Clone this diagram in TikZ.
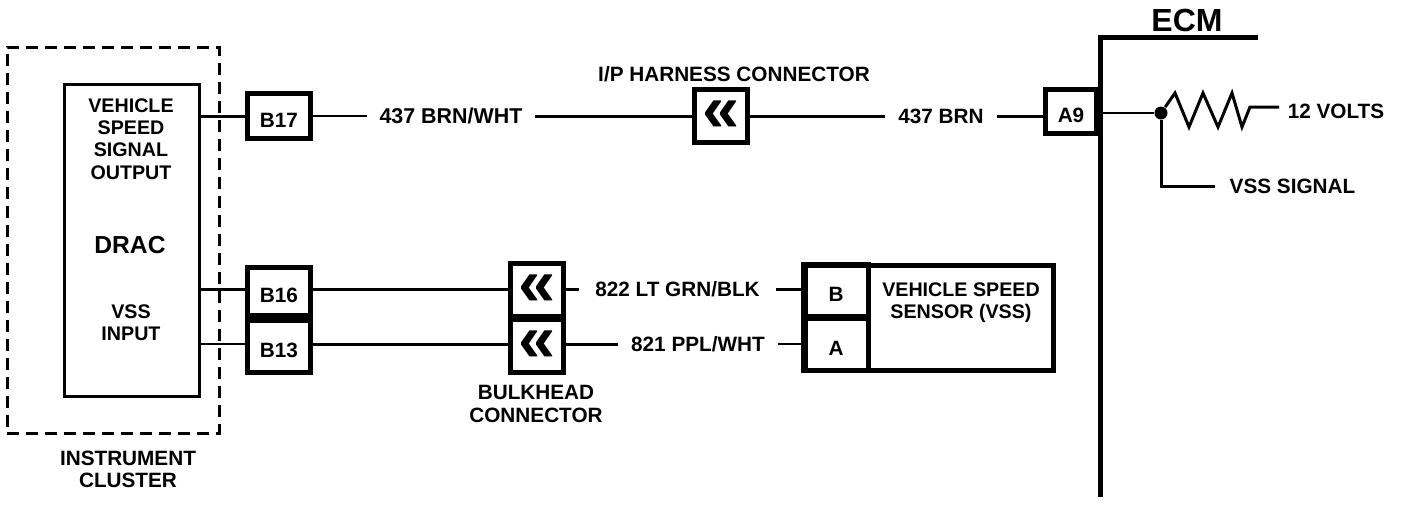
\documentclass[tikz,border=0pt]{standalone}
\usepackage{fontspec}
\setmainfont{Liberation Sans}
\newcommand{\lblfont}{\fontsize{5.9}{6.3}\selectfont\bfseries}
\newcommand{\narrowfont}{\fontsize{5.6}{6.3}\selectfont\bfseries}
\newcommand{\bigfont}{\fontsize{7}{7}\selectfont\bfseries}
\tikzset{
	lbl/.style={font=\lblfont, align=center, inner sep=1pt},
	biglbl/.style={font=\bigfont, inner sep=1pt},
	term/.style={draw, line width=0.05cm, font=\lblfont, inner sep=0pt, text height=0.22cm, text depth=0pt, minimum width=0.63cm, minimum height=0.45cm},
	chev/.style={draw, line width=0.05cm, font=\fontsize{19}{19}\selectfont\bfseries, inner sep=0pt, minimum width=0.53cm, minimum height=0.53cm},
	wire/.style={line width=0.03cm},
	thinwire/.style={line width=0.02cm},
	wall/.style={line width=0.05cm}
}
\begin{document}
\begin{tikzpicture}[y=-1cm]
	\path[fill=white, use as bounding box] (0,0) rectangle (14.08,5.04);

	% instrument cluster
	\node (cluster) at (1.13,2.40) [draw, line width=0.03cm, dash pattern=on 0.12cm off 0.07cm, minimum width=2.12cm, minimum height=3.86cm] {};
	\node (drac) at (1.315,2.40) [draw, line width=0.03cm, minimum width=1.35cm, minimum height=3.12cm] {};
	\node (output) at (1.31,1.39) [lbl, font=\narrowfont] {VEHICLE\\SPEED\\SIGNAL\\OUTPUT};
	\node (dractxt) at (1.30,2.45) [biglbl] {DRAC};
	\node (input) at (1.31,3.23) [lbl, font=\narrowfont] {VSS\\INPUT};
	\node (clustertxt) at (1.28,4.69) [lbl] {INSTRUMENT\\CLUSTER};

	% terminals
	\node (b17) at (2.79,1.16) [term] {B17};
	\node (b16) at (2.79,2.915) [term, minimum height=0.48cm] {B16};
	\node (b13) at (2.79,3.465) [term, minimum height=0.52cm] {B13};
	\node (a9) at (10.71,1.11) [term, minimum width=0.51cm, minimum height=0.44cm] {A9};

	% connectors
	\node (ip) at (7.21,1.16) [chev] {«};
	\node (bulk1) at (5.37,2.90) [chev] {«};
	\node (bulk2) at (5.37,3.46) [chev] {«};
	\node (iptxt) at (7.34,0.74) [lbl] {I/P HARNESS CONNECTOR};
	\node (bulktxt) at (5.36,4.04) [lbl] {BULKHEAD\\CONNECTOR};

	% wire labels
	\node (w437a) at (4.51,1.16) [lbl, font=\fontsize{6.1}{6.3}\selectfont\bfseries, inner sep=0.12cm] {437 BRN/WHT};
	\node (w437b) at (9.41,1.16) [lbl, inner sep=0.13cm] {437 BRN};
	\node (w822) at (6.775,2.89) [lbl, inner sep=0.16cm] {822 LT GRN/BLK};
	\node (w821) at (6.98,3.44) [lbl, inner sep=0.12cm] {821 PPL/WHT};

	% sensor
	\node (vss) at (9.295,3.18) [draw, line width=0.05cm, minimum width=2.48cm, minimum height=1.05cm] {};
	\node (pinb) at (8.36,2.90) [term, minimum width=0.65cm, minimum height=0.52cm] {B};
	\node (pina) at (8.36,3.44) [term, minimum width=0.65cm, minimum height=0.52cm] {A};
	\node (vsstxt) at (9.61,3.03) [lbl, font=\narrowfont] {VEHICLE SPEED\\SENSOR (VSS)};

	% ecm
	\node (ecmtxt) at (11.87,0.20) [biglbl, font=\fontsize{9.1}{9.1}\selectfont\bfseries] {ECM};
	\coordinate (ecmbot) at (11.00,4.97);
	\coordinate (ecmcor) at (11.00,0.375);
	\coordinate (ecmend) at (12.58,0.375);
	\draw[wall] (ecmbot) -- (ecmcor) -- (ecmend);
	\node (dot) at (11.61,1.13) [circle, fill, inner sep=0pt, minimum size=0.13cm] {};
	\node (volts) at (13.36,1.11) [lbl] {12 VOLTS};
	\node (sig) at (12.925,1.86) [lbl, inner sep=0.14cm] {VSS SIGNAL};
	\coordinate (rend) at (12.79,1.07);
	\coordinate (top16) at (2.00,2.89);
	\coordinate (top13) at (2.00,3.44);

	% wires
	\draw[wire] (drac.east |- b17) -- (b17);
	\draw[thinwire] (b17) -- (w437a);
	\draw[wire] (w437a) -- (ip);
	\draw[wire] (ip) -- (w437b);
	\draw[wire] (w437b) -- (a9.west |- w437b);
	\draw[wire] (top16) -- (b16.west |- top16);
	\draw[thinwire] (top13) -- (b13.west |- top13);
	\draw[wire] (b16.east |- top16) -- (bulk1.west |- top16);
	\draw[wire] (b13.east |- top13) -- (bulk2.west |- top13);
	\draw[wire] (bulk1.east |- w822) -- (w822);
	\draw[wire] (bulk2.east |- w821) -- (w821);
	\draw[wire] (w822) -- (pinb.west |- w822);
	\draw[thinwire] (w821) -- (pina.west |- w821);
	\draw[thinwire] (a9.east |- dot) -- (dot);
	\draw[wire] (dot) -- (11.75,0.93) -- (11.89,1.27) -- (12.03,0.93) -- (12.18,1.27) -- (12.32,0.93) -- (12.42,1.27) -- (12.50,1.07) -- (rend);
	\draw[wire] (dot) |- (sig);
\end{tikzpicture}
\end{document}
